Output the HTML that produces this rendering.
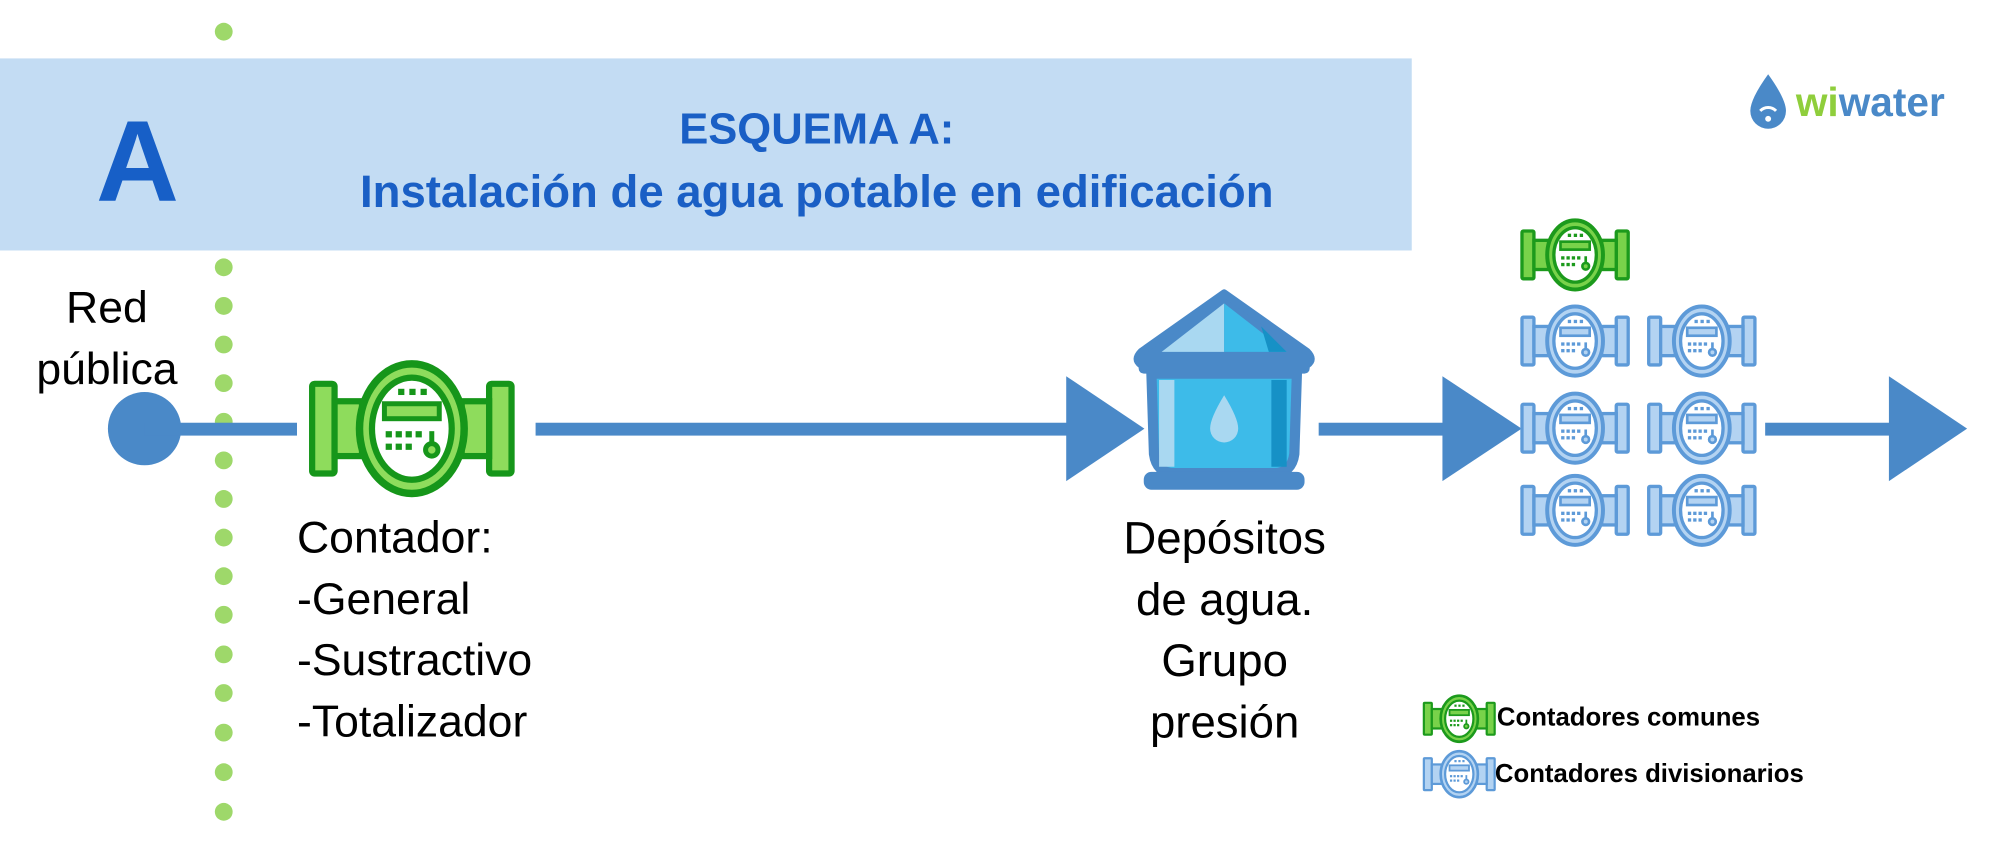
<!DOCTYPE html>
<html><head><meta charset="utf-8"><style>
body{margin:0;width:2000px;height:840px;background:#fff;position:relative;overflow:hidden;font-family:"Liberation Sans",sans-serif}
#w{position:absolute;left:0;top:0;width:2000px;height:850px;transform:scale(0.99);transform-origin:0 0}
.t{position:absolute;white-space:nowrap}
</style></head><body><div id="w">
<svg width="2000" height="850" style="position:absolute;left:0;top:0">
<defs>
<symbol id="m" viewBox="0 0 170 112">
<rect x="5" y="20" width="18" height="72" rx="2" fill="var(--l)" stroke="var(--d)" stroke-width="5"/>
<rect x="147" y="20" width="18" height="72" rx="2" fill="var(--l)" stroke="var(--d)" stroke-width="5"/>
<rect x="23" y="34" width="22" height="44" fill="var(--l)" stroke="var(--d)" stroke-width="5"/>
<rect x="125" y="34" width="22" height="44" fill="var(--l)" stroke="var(--d)" stroke-width="5"/>
<ellipse cx="85" cy="56" rx="42" ry="52" fill="var(--l)" stroke="var(--d)" stroke-width="6"/>
<ellipse cx="85" cy="56" rx="32" ry="41" fill="#fff" stroke="var(--d)" stroke-width="5"/>
<rect x="63" y="36" width="44" height="12" fill="var(--l)" stroke="var(--d)" stroke-width="4"/>
<g fill="var(--d)"><rect x="74" y="24" width="5" height="5"/><rect x="83" y="24" width="5" height="5"/><rect x="92" y="24" width="5" height="5"/>
<rect x="64" y="58" width="5" height="5"/><rect x="72" y="58" width="5" height="5"/><rect x="80" y="58" width="5" height="5"/><rect x="88" y="58" width="5" height="5"/>
<rect x="64" y="68" width="5" height="5"/><rect x="72" y="68" width="5" height="5"/><rect x="80" y="68" width="5" height="5"/></g>
<line x1="101" y1="58" x2="101" y2="68" stroke="var(--d)" stroke-width="4"/>
<circle cx="101" cy="73" r="5" fill="var(--l)" stroke="var(--d)" stroke-width="4"/>
</symbol>
</defs>
<g fill="#9ed86a">
<circle cx="226" cy="32" r="9"/>
<circle cx="226" cy="270" r="9"/><circle cx="226" cy="309" r="9"/><circle cx="226" cy="348" r="9"/><circle cx="226" cy="387" r="9"/><circle cx="226" cy="426" r="9"/><circle cx="226" cy="465" r="9"/><circle cx="226" cy="504" r="9"/><circle cx="226" cy="543" r="9"/><circle cx="226" cy="582" r="9"/><circle cx="226" cy="621" r="9"/><circle cx="226" cy="661" r="9"/><circle cx="226" cy="700" r="9"/><circle cx="226" cy="740" r="9"/><circle cx="226" cy="780" r="9"/><circle cx="226" cy="820" r="9"/>
</g>
<rect x="0" y="59" width="1426" height="194" fill="#c3dcf3"/>
<g fill="#4a89c8">
<circle cx="146" cy="433" r="37"/>
<rect x="146" y="427" width="154" height="13"/>
<rect x="541" y="427" width="540" height="13"/>
<polygon points="1077,380 1156,433 1077,486"/>
<rect x="1332" y="427" width="130" height="13"/>
<polygon points="1457,380 1537,433 1457,486"/>
<rect x="1783" y="427" width="130" height="13"/>
<polygon points="1908,380 1987,433 1908,486"/>
</g>
<use href="#m" x="309" y="362" width="214" height="142" style="--l:#8edc5c;--d:#16961a"/>
<g style="--l:#79d24a;--d:#1c9a1c"><use href="#m" x="1534" y="219" width="114" height="77"/></g>
<g style="--l:#b3d3f2;--d:#5d9ad8">
<use href="#m" x="1534" y="306" width="114" height="77"/><use href="#m" x="1662" y="306" width="114" height="77"/>
<use href="#m" x="1534" y="394" width="114" height="77"/><use href="#m" x="1662" y="394" width="114" height="77"/>
<use href="#m" x="1534" y="477" width="114" height="77"/><use href="#m" x="1662" y="477" width="114" height="77"/>
</g>
<use href="#m" x="1436" y="700" width="76" height="52" style="--l:#79d24a;--d:#1c9a1c"/>
<use href="#m" x="1436" y="756" width="76" height="52" style="--l:#b3d3f2;--d:#5d9ad8"/>
<g transform="translate(1145,291) scale(1.289)">
<path d="M71,4 L6,50 Q0,56 6,60 L136,60 Q142,56 136,50 Z" fill="#4a89c8" stroke="#4a89c8" stroke-width="6" stroke-linejoin="round"/>
<polygon points="71,12 22,50 71,50" fill="#a9d8f1"/>
<polygon points="71,12 120,50 71,50" fill="#3dbbe9"/>
<polygon points="100,30 120,50 106,50" fill="#1691c6"/>
<rect x="4" y="52" width="134" height="15" rx="4" fill="#4a89c8"/>
<path d="M14,67 L128,67 L126,130 Q124,145 110,145 L32,145 Q18,145 16,130 Z" fill="#3dbbe9" stroke="#4a89c8" stroke-width="8"/>
<rect x="20" y="72" width="12" height="68" fill="#a9d8f1"/>
<rect x="108" y="72" width="12" height="68" fill="#1691c6"/>
<path d="M71,84 Q60,102 60,110 A11,11 0 0 0 82,110 Q82,102 71,84 Z" fill="#a9d8f1"/>
<rect x="8" y="144" width="126" height="14" rx="6" fill="#4a89c8"/>
</g>
<path d="M1786,75 Q1768,100 1768,112 A18,18 0 0 0 1804,112 Q1804,100 1786,75 Z" fill="#4a89c8"/>
<path d="M1778,112 A11,11 0 0 1 1794,112" stroke="#fff" stroke-width="3" fill="none"/>
<circle cx="1786" cy="120" r="3" fill="#fff"/>
</svg>
<div class="t" style="left:97px;top:96px;font-size:116px;font-weight:bold;color:#175fc7">A</div>
<div class="t" style="left:0;width:1650px;text-align:center;top:100px;font-size:44px;font-weight:bold;color:#1a5fc5;line-height:62px">ESQUEMA A:<br><span style="font-size:46px">Instalación de agua potable en edificación</span></div>
<div class="t" style="left:18px;width:180px;text-align:center;top:280px;font-size:45px;line-height:62px">Red<br>pública</div>
<div class="t" style="left:300px;top:512px;font-size:45px;line-height:62px">Contador:<br>-General<br>-Sustractivo<br>-Totalizador</div>
<div class="t" style="left:1107px;width:260px;text-align:center;top:512px;font-size:46px;line-height:62px">Depósitos<br>de agua.<br>Grupo<br>presión</div>
<div class="t" style="left:1512px;top:709px;font-size:26px;font-weight:bold">Contadores comunes</div>
<div class="t" style="left:1510px;top:766px;font-size:26px;font-weight:bold">Contadores divisionarios</div>
<div class="t" style="left:1814px;top:80px;font-size:41px;font-weight:bold"><span style="color:#8fce3c">wi</span><span style="color:#4a89c8">water</span></div>
</div></body></html>
